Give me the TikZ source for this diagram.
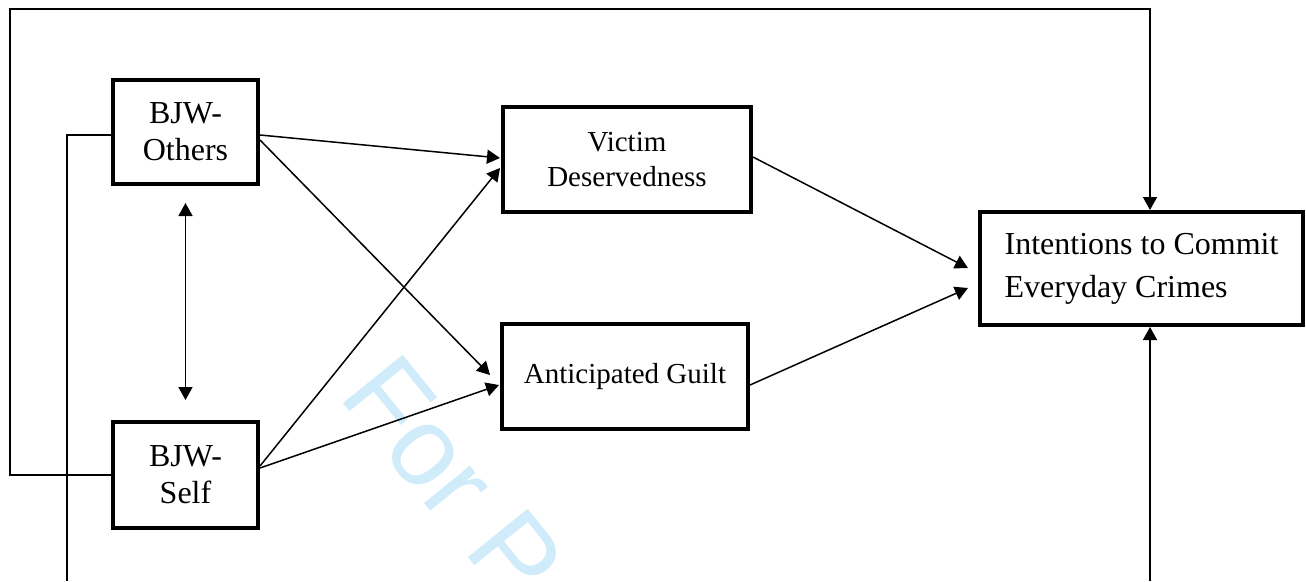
\documentclass[tikz,border=0pt]{standalone}
\usepackage{fontspec}
\setmainfont{Liberation Serif}
\newfontfamily\wmfont{Liberation Sans}
\usetikzlibrary{arrows.meta}
\definecolor{wmblue}{RGB}{208,236,250}
\tikzset{
  box/.style={draw, line width=4pt, fill=white, align=center, inner sep=0pt},
  conn/.style={line width=1.5pt, -{Triangle[length=13pt,width=14pt]}},
  plainline/.style={line width=1.5pt},
}
\begin{document}
\begin{tikzpicture}[x=1pt,y=-1pt]
\useasboundingbox (0,0) rectangle (1306,581);
\begin{scope}
\clip (0,0) rectangle (1306,581);
\node[anchor=base west, rotate=-51, text=wmblue, inner sep=0pt, font={\wmfont\fontsize{112}{112}\selectfont}] (wm) at (337,396) {For Pe};
\end{scope}

\node[box, minimum width=145pt, minimum height=104pt, font={\fontsize{32}{37}\selectfont}] (others) at (185.5,132) {BJW-\\Others};
\node[box, minimum width=145pt, minimum height=106pt, font={\fontsize{32}{37}\selectfont}] (self) at (185.5,475) {BJW-\\Self};
\node[box, minimum width=248pt, minimum height=105pt, font={\fontsize{29}{35}\selectfont}] (victim) at (627,159.5) {Victim\\Deservedness};
\node[box, minimum width=246pt, minimum height=105pt, font={\fontsize{29}{35}\selectfont}] (guilt) at (625,376.5) {Anticipated Guilt};
\node[box, minimum width=323pt, minimum height=113pt, align=left, font={\fontsize{32}{43}\selectfont}] (intent) at (1141.5,268.5) {Intentions to Commit\\Everyday Crimes};

\coordinate (tl) at (10,9);
\coordinate (bl) at (67,581);
\coordinate (br) at (1150,581);

% outer loop
\draw[conn] (self.west) -| (tl) -| ([xshift=8.5pt]intent.north);
% lines leaving the page
\draw[plainline] ([yshift=-3pt]others.west) -| (bl);
\draw[conn] (br) -- ([xshift=8.5pt]intent.south);

% correlation
\draw[line width=1.5pt, {Triangle[length=13pt,width=14pt]}-{Triangle[length=13pt,width=14pt]}, shorten <=17pt, shorten >=20pt] (others.south) -- (self.north);

% paths
\draw[conn] ([yshift=-3pt]others.east) -- ([xshift=-1pt,yshift=1.5pt]victim.west);
\draw[conn] ([yshift=-8pt]others.east) -- ([xshift=-10pt,yshift=1.5pt]guilt.west);
\draw[conn] ([yshift=9pt]self.east) -- ([xshift=-1pt,yshift=-8.5pt]victim.west);
\draw[conn] ([yshift=7pt]self.east) -- ([xshift=-1pt,yshift=-8.5pt]guilt.west);
\draw[conn] ([yshift=2.5pt]victim.east) -- ([xshift=-10pt,yshift=0.5pt]intent.west);
\draw[conn] ([yshift=-8.5pt]guilt.east) -- ([xshift=-10pt,yshift=-19.5pt]intent.west);
\end{tikzpicture}
\end{document}
